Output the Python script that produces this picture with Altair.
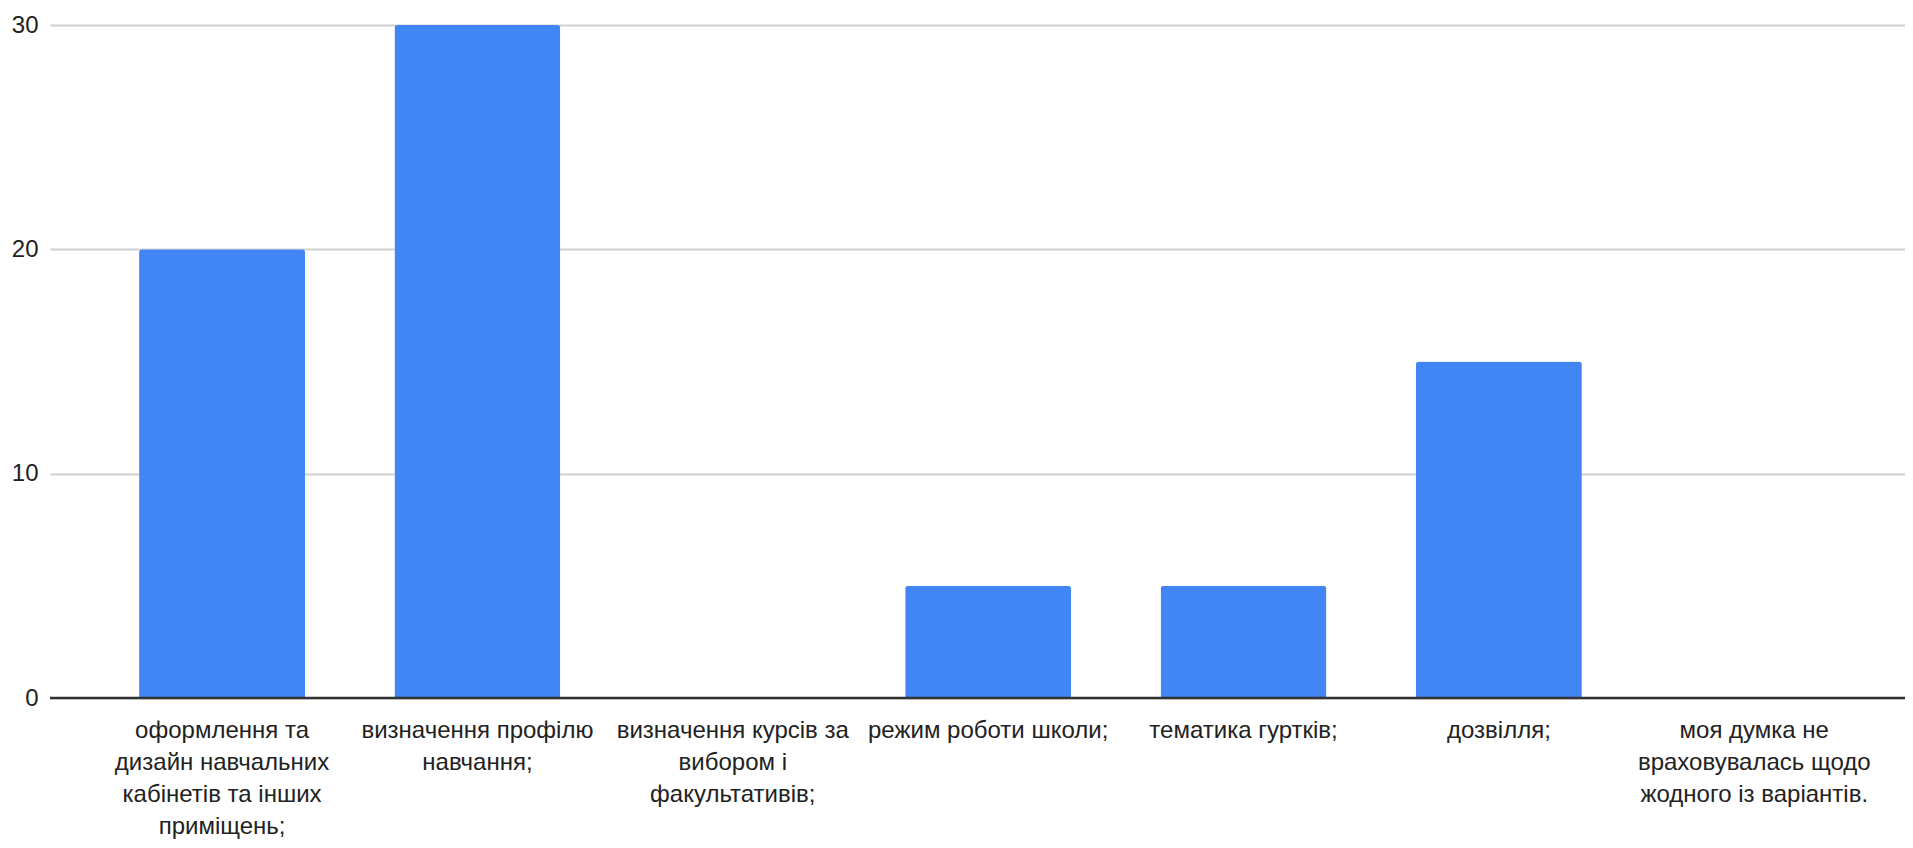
import altair as alt
import pandas as pd

categories = [
    "оформлення та\nдизайн навчальних\nкабінетів та інших\nприміщень;",
    "визначення профілю\nнавчання;",
    "визначення курсів за\nвибором і\nфакультативів;",
    "режим роботи школи;",
    "тематика гуртків;",
    "дозвілля;",
    "моя думка не\nвраховувалась щодо\nжодного із варіантів.",
]
values = [20, 30, 0, 5, 5, 15, 0]
y_ticks = [0, 10, 20, 30]

df = pd.DataFrame({"cat": categories, "val": values})
FONT = "'Liberation Sans', Arial, sans-serif"

bars = alt.Chart(df).mark_bar(
    color="#4285F4", cornerRadiusTopLeft=3, cornerRadiusTopRight=3
).encode(
    x=alt.X(
        "cat:N",
        sort=categories,
        scale=alt.Scale(paddingInner=0.35, paddingOuter=0.307, align=0.568),
        axis=alt.Axis(
            title=None,
            labelAngle=0,
            labelExpr="split(datum.label, '\\n')",
            labelFont=FONT,
            labelFontSize=24,
            labelLineHeight=32,
            labelColor="#222222",
            labelPadding=20,
            labelLimit=0,
            labelBaseline="top",
            ticks=False,
            domain=False,
        ),
    ),
    y=alt.Y(
        "val:Q",
        scale=alt.Scale(domain=[0, 30], nice=False),
        axis=alt.Axis(
            title=None,
            values=y_ticks,
            labelFont=FONT,
            labelFontSize=24,
            labelColor="#222222",
            labelPadding=12,
            ticks=False,
            domain=False,
            grid=True,
            gridColor="#d0d0d0",
            gridWidth=2,
        ),
    ),
)

baseline = alt.Chart(pd.DataFrame({"v": [0]})).mark_rule(
    color="#333333", strokeWidth=2.5
).encode(y="v:Q")

chart = alt.layer(bars, baseline).properties(
    width=1855,
    height=673,
    autosize=alt.AutoSizeParams(type="none"),
    padding={"left": 42, "top": 17, "right": 0, "bottom": 142},
).configure_view(stroke=None)

chart.save("out.html", embed_options={"renderer": "svg", "actions": False})
